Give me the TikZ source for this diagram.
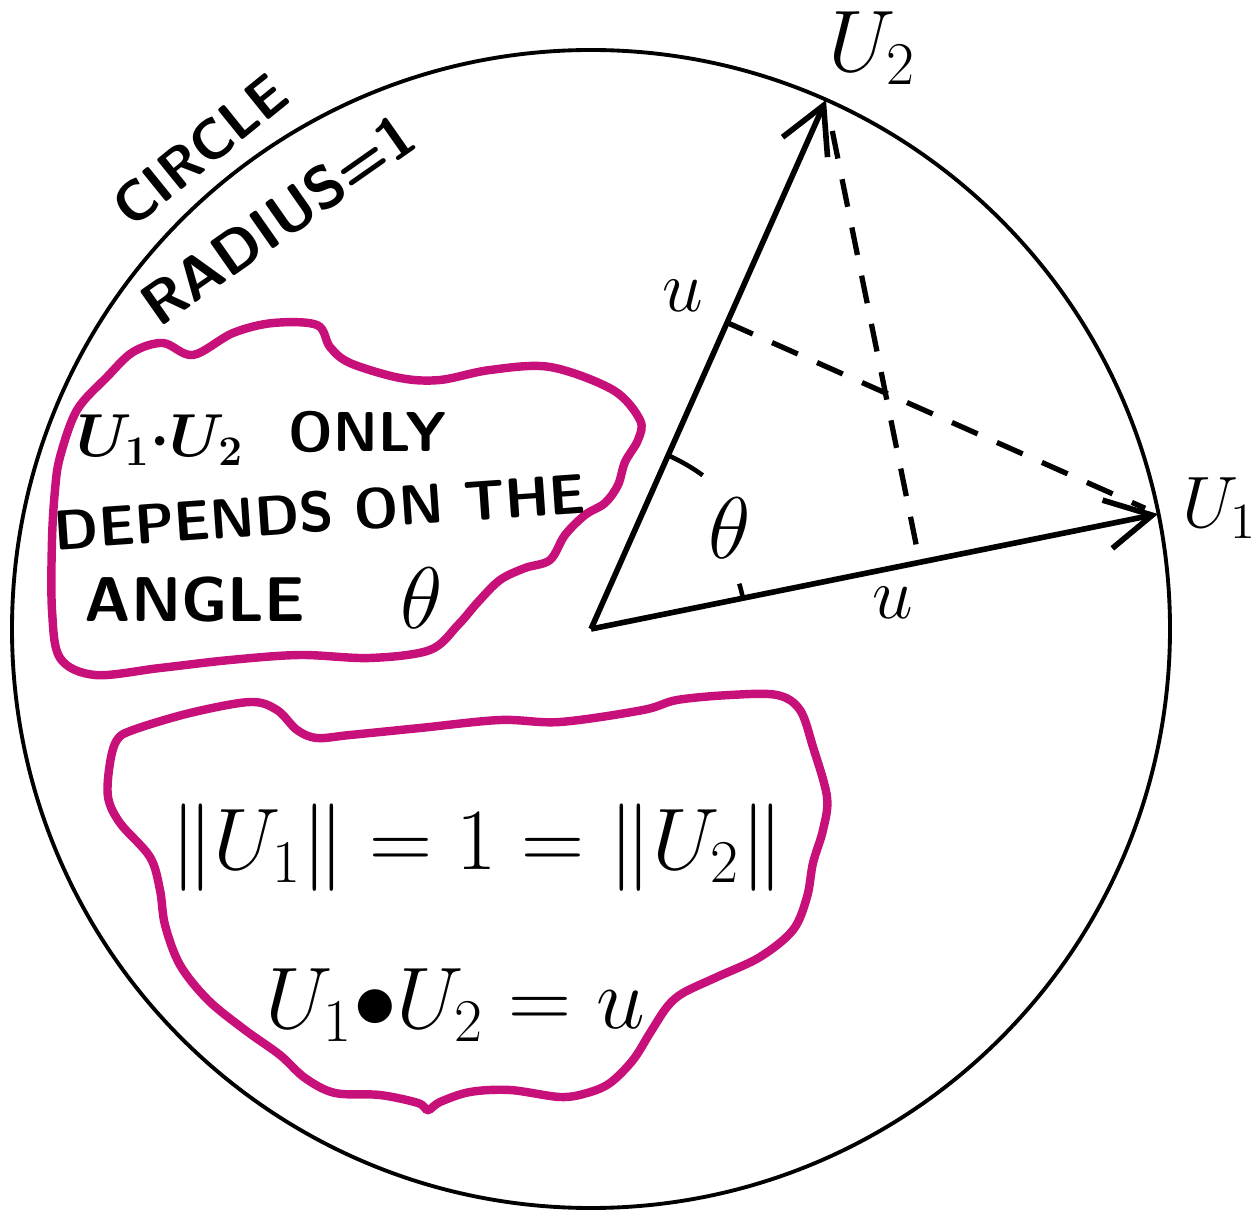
\documentclass[tikz,border=0pt]{standalone}
\usepackage{amsmath}
\usetikzlibrary{calc,arrows.meta}
\definecolor{marker}{RGB}{200,16,122}

\begin{document}
\begin{tikzpicture}[x=0.1mm,y=-0.1mm,>={Straight Barb[length=13pt,width=14pt]},
  vec/.style={line width=1.6pt,->},
  proj/.style={line width=1.5pt,dash pattern=on 8pt off 6pt},
  blob/.style={line width=2.4pt,marker},
  caps/.style={font=\fontsize{16}{18}\selectfont\sffamily\bfseries\boldmath}]
  \useasboundingbox (0,0) rectangle (1252,1215);
  % unit circle and the two vectors
  \coordinate (O) at (591,629);
  \draw[line width=1.1pt] (O) circle[radius=579];
  \coordinate (U1) at (1158,514);
  \coordinate (U2) at (826,100);
  \coordinate (F1) at ($(O)!(U2)!(U1)$);
  \coordinate (F2) at ($(O)!(U1)!(U2)$);
  \draw[vec] (O) -- (U1);
  \draw[vec] (O) -- (U2);
  \draw[proj,shorten <=9pt,shorten >=4pt] (U2) -- (F1);
  \draw[proj,shorten >=4pt] (F2) -- (U1);
  \draw[line width=1.3pt] ($(O)+(-66:190)$) arc[start angle=-66,end angle=-54,radius=190];
  \draw[line width=1.3pt] ($(O)+(-17:155)$) arc[start angle=-17,end angle=-11.5,radius=155];
  \node[font=\fontsize{24}{28}\selectfont] (lU2) at (872,48) {$U_2$};
  \node[font=\fontsize{21}{24}\selectfont] (lU1) at (1220,508) {$U_1$};
  \node[font=\fontsize{20}{24}\selectfont] (lu2) at (683,296) {$u$};
  \node[font=\fontsize{20}{24}\selectfont] (lu1) at (893,603) {$u$};
  \node[font=\fontsize{36}{40}\selectfont] (th) at (730,528) {$\theta$};
  \node[caps,rotate=39] (circ) at (200,150) {CIRCLE};
  \node[caps,font=\fontsize{17}{19}\selectfont\sffamily\bfseries,rotate=35] (rad) at (278,220) {RADIUS=1};
  % first remark
  \draw[blob] plot[smooth cycle,tension=0.55] coordinates {(60,457) (77,410) (107,377) (133,352)
    (163,343) (193,355) (233,333) (273,323) (317,325) (330,347) (350,363) (400,378) (440,380)
    (490,370) (550,367) (613,390) (640,420) (638,440) (625,462) (618,485) (605,503) (585,515)
    (565,535) (550,560) (525,568) (500,580) (478,602) (458,625) (430,650) (370,658) (300,655)
    (230,660) (160,668) (95,675) (60,658) (52,610) (52,540) (55,490)};
  \node[caps,font=\fontsize{18}{20}\selectfont\boldmath] (r1a) at (160,440) {$U_1{\cdot}U_2$};
  \node[caps] (r1b) at (368,432) {ONLY};
  \node[caps,rotate=4] (r2) at (320,512) {DEPENDS ON THE};
  \node[caps,font=\fontsize{18}{20}\selectfont\sffamily\bfseries] (r3a) at (195,600) {ANGLE};
  \node[font=\fontsize{34}{38}\selectfont] (r3b) at (422,598) {$\theta$};
  % second remark
  \draw[blob] plot[smooth cycle,tension=0.55] coordinates {(117,740) (133,730) (190,713) (250,702)
    (277,710) (297,730) (317,738) (350,735) (420,728) (500,720) (560,722) (643,710) (677,700)
    (730,695) (777,695) (800,710) (813,747) (827,797) (823,830) (813,863) (807,897) (793,930)
    (760,957) (717,977) (683,993) (667,1007) (650,1033) (633,1060) (610,1083) (587,1093)
    (560,1097) (510,1090) (470,1092) (440,1102) (428,1110) (418,1103) (380,1095) (335,1093)
    (305,1078) (280,1055) (245,1030) (208,1000) (180,965) (165,925) (160,890) (150,857)
    (120,823) (108,797) (110,763)};
  \node[font=\fontsize{23}{27}\selectfont] (n1) at (477,848) {$\|U_1\| = 1 = \|U_2\|$};
  \node[font=\fontsize{23}{27}\selectfont] (n2) at (455,1005) {$U_1{\bullet}U_2 = u$};
\end{tikzpicture}
\end{document}
